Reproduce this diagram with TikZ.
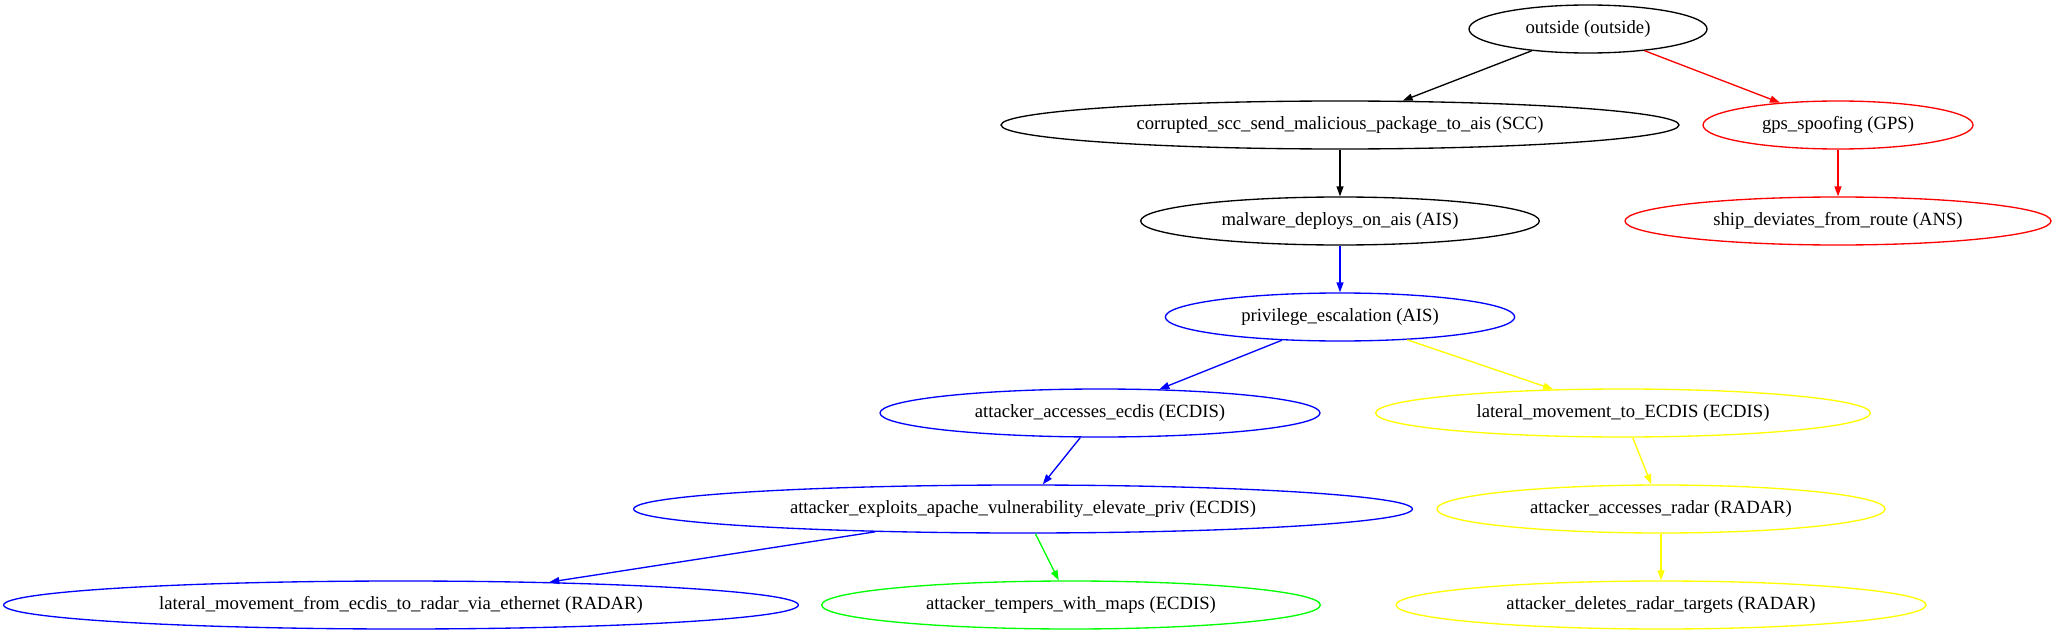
\documentclass[tikz,border=0pt]{standalone}
\usepackage{fontspec}
\setmainfont{Liberation Serif}
\usepackage{tikz}
\usetikzlibrary{arrows.meta,shapes.geometric}

\definecolor{gvred}{HTML}{FF0000}
\definecolor{gvblue}{HTML}{0000FF}
\definecolor{gvyellow}{HTML}{FFFF00}
\definecolor{gvgreen}{HTML}{00FF00}

\begin{document}
\begin{tikzpicture}[x=0.75pt, y=-0.75pt,
    >={Triangle[length=7.5pt,width=5.25pt]},
    every node/.style={font=\fontsize{14pt}{16pt}\selectfont},
    attack/.style={draw, ellipse, line width=1pt, inner xsep=-15pt,
                   inner ysep=0pt, minimum height=36pt, minimum width=#1},
    link/.style={->, line width=1pt}]
    \useasboundingbox (0,0) rectangle (2053,635);

    % attack steps
    \node[attack=178.5pt] (outside) at (1588,29) {outside (outside)};
    \node[attack=508.5pt] (scc) at (1340,125) {corrupted\_scc\_send\_malicious\_package\_to\_ais (SCC)};
    \node[attack=202.5pt, draw=gvred] (gps) at (1838,125) {gps\_spoofing (GPS)};
    \node[attack=299pt] (malware) at (1340,221) {malware\_deploys\_on\_ais (AIS)};
    \node[attack=319.5pt, draw=gvred] (ans) at (1838,221) {ship\_deviates\_from\_route (ANS)};
    \node[attack=262pt, draw=gvblue] (priv) at (1340,317) {privilege\_escalation (AIS)};
    \node[attack=330pt, draw=gvblue] (ecdis) at (1100,413) {attacker\_accesses\_ecdis (ECDIS)};
    \node[attack=371pt, draw=gvyellow] (latecdis) at (1623,413) {lateral\_movement\_to\_ECDIS (ECDIS)};
    \node[attack=584pt, draw=gvblue] (exploit) at (1023,509) {attacker\_exploits\_apache\_vulnerability\_elevate\_priv (ECDIS)};
    \node[attack=336pt, draw=gvyellow] (radar) at (1661,509) {attacker\_accesses\_radar (RADAR)};
    \node[attack=596pt, draw=gvblue] (latradar) at (401,605) {lateral\_movement\_from\_ecdis\_to\_radar\_via\_ethernet (RADAR)};
    \node[attack=374pt, draw=gvgreen] (maps) at (1071,605) {attacker\_tempers\_with\_maps (ECDIS)};
    \node[attack=397.5pt, draw=gvyellow] (targets) at (1661,605) {attacker\_deletes\_radar\_targets (RADAR)};

    % transitions
    \draw[link] (outside) -- (scc);
    \draw[link, gvred] (outside) -- (gps);
    \draw[link] (scc) -- (malware);
    \draw[link, gvred] (gps) -- (ans);
    \draw[link, gvblue] (malware) -- (priv);
    \draw[link, gvblue] (priv) -- (ecdis);
    \draw[link, gvyellow] (priv) -- (latecdis);
    \draw[link, gvblue] (ecdis) -- (exploit);
    \draw[link, gvyellow] (latecdis) -- (radar);
    \draw[link, gvblue] (exploit) -- (latradar);
    \draw[link, gvgreen] (exploit) -- (maps);
    \draw[link, gvyellow] (radar) -- (targets);
\end{tikzpicture}
\end{document}
